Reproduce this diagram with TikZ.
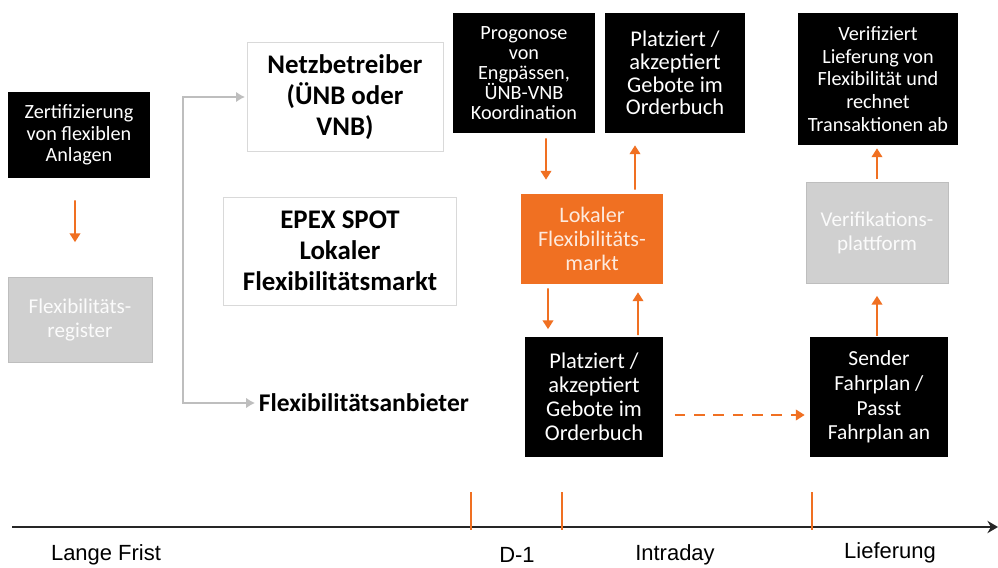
\documentclass[tikz,border=0pt]{standalone}
\usepackage{fontspec}
\setmainfont{Carlito}
\newfontfamily\axisfont{Liberation Sans}
\usetikzlibrary{arrows.meta}
\definecolor{flexorange}{RGB}{240,112,34}
\definecolor{boxgray}{RGB}{208,208,208}
\definecolor{linegray}{RGB}{190,190,190}
\tikzstyle{blk-box} = [fill=black, text=white, rectangle, align=center, inner sep=2pt]
\tikzstyle{gray-box} = [fill=boxgray, draw=linegray, text=white!92!boxgray, rectangle, align=center, inner sep=2pt]
\tikzstyle{white-box} = [fill=white, draw=black!15, rectangle, align=center, inner sep=2pt,
    font=\bfseries\fontsize{15.3}{17.8}\selectfont]
\tikzstyle{org-box} = [fill=flexorange, text=white!85!flexorange, rectangle, align=center, inner sep=2pt]
\tikzstyle{org-arrow} = [draw=flexorange, line width=1.1pt, -{Triangle[width=6pt,length=5pt]}]
\tikzstyle{gray-arrow} = [draw=linegray, line width=1.4pt, {Latex[width=6pt,length=5pt]}-{Latex[width=6pt,length=5pt]}]
\tikzstyle{axis-label} = [font=\axisfont\fontsize{12.5}{14}\selectfont]
\newcommand{\boxfont}[2]{\fontsize{#1}{#2}\selectfont}

\begin{document}
\begin{tikzpicture}[x=0.02cm, y=-0.02cm]
\useasboundingbox[fill=white] (0,0) rectangle (998,568);

% left column
\node [blk-box, minimum width=2.84cm, minimum height=1.72cm, font=\boxfont{11.5}{12.2}] (zert) at (79,135)
    {Zertifizierung\\von flexiblen\\Anlagen};
\node [gray-box, minimum width=2.88cm, minimum height=1.70cm, font=\boxfont{12}{13.5}] (reg) at (80,320)
    {Flexibilitäts-\\register};
\draw [org-arrow, shorten <=0.44cm, shorten >=0.70cm] ([xshift=-0.08cm]zert.south) -- ([xshift=-0.10cm]reg.north);

% actors
\node [white-box, minimum width=3.92cm, minimum height=2.18cm] (netz) at (345,97)
    {Netzbetreiber\\(ÜNB oder\\VNB)};
\node [white-box, minimum width=4.66cm, minimum height=2.16cm] (epex) at (340,251)
    {EPEX SPOT\\Lokaler\\Flexibilitätsmarkt};
\node [anchor=west, inner sep=2pt, font=\bfseries\fontsize{14.5}{16}\selectfont] (anb) at (255,403)
    {Flexibilitätsanbieter};
\coordinate (knee-top) at (183,97);
\coordinate (knee-bot) at (183,403);
\draw [gray-arrow, shorten <=1pt] (netz.west) -- (knee-top) -- (knee-bot) -- (anb.west);

% D-1 / intraday
\node [blk-box, minimum width=2.86cm, minimum height=2.40cm, font=\boxfont{11.5}{11.3}] (prog) at (524,73)
    {Progonose\\von\\Engpässen,\\ÜNB-VNB\\Koordination};
\node [blk-box, minimum width=2.80cm, minimum height=2.40cm, font=\boxfont{12.8}{13}] (platz-top) at (675,73)
    {Platziert /\\akzeptiert\\Gebote im\\Orderbuch};
\node [org-box, minimum width=2.86cm, minimum height=1.80cm, font=\boxfont{12.6}{13.6}] (lok) at (592,239)
    {Lokaler\\Flexibilitäts-\\markt};
\node [blk-box, minimum width=2.78cm, minimum height=2.42cm, font=\boxfont{12.8}{13.6}] (platz-bot) at (594,397)
    {Platziert /\\akzeptiert\\Gebote im\\Orderbuch};
\draw [org-arrow, shorten <=0.10cm, shorten >=0.28cm] ([xshift=0.44cm]prog.south) -- ([xshift=-0.92cm]lok.north);
\draw [org-arrow, shorten <=0.08cm, shorten >=0.24cm] ([xshift=0.86cm]lok.north) -- ([xshift=-0.80cm]platz-top.south);
\draw [org-arrow, shorten <=0.08cm, shorten >=0.14cm] ([xshift=-0.88cm]lok.south) -- ([xshift=-0.92cm]platz-bot.north);
\draw [org-arrow, shorten <=0.02cm, shorten >=0.16cm] ([xshift=0.88cm]platz-bot.north) -- ([xshift=0.92cm]lok.south);

% delivery
\node [blk-box, minimum width=3.20cm, minimum height=2.64cm, font=\boxfont{11.5}{13}] (verif) at (878,79)
    {Verifiziert\\Lieferung von\\Flexibilität und\\rechnet\\Transaktionen ab};
\node [gray-box, minimum width=2.84cm, minimum height=2.02cm, font=\boxfont{12}{14}] (platt) at (877,233)
    {Verifikations-\\plattform};
\node [blk-box, minimum width=2.76cm, minimum height=2.40cm, font=\boxfont{12.2}{14}] (send) at (879,397)
    {Sender\\Fahrplan /\\Passt\\Fahrplan an};
\draw [org-arrow, shorten <=0.06cm, shorten >=0.06cm] (platt.north) -- (platt.north |- verif.south);
\draw [org-arrow, shorten <=0.02cm, shorten >=0.24cm] ([xshift=-0.04cm]send.north) -- ([xshift=-0.04cm]send.north |- platt.south);
\draw [org-arrow, dashed, dash pattern=on 6pt off 5pt, shorten <=0.22cm, shorten >=0.10cm]
    ([yshift=-0.36cm]platz-bot.east) -- ([yshift=-0.36cm]platz-bot.east -| send.west);

% timeline
\coordinate (t-start) at (12,527);
\coordinate (t-end) at (998,527);
\draw [line width=1.6pt, black!85, -{Stealth[width=7pt,length=6pt]}] (t-start) -- (t-end);
\foreach \x in {471,562,812}
    \draw [flexorange, line width=0.8pt] (\x,492) -- (\x,530);
\node [axis-label] (lbl-lang) at (106,555) {Lange Frist};
\node [axis-label] (lbl-d1) at (517,555) {D-1};
\node [axis-label] (lbl-intra) at (675,555) {Intraday};
\node [axis-label] (lbl-lief) at (890,553) {Lieferung};
\end{tikzpicture}
\end{document}
